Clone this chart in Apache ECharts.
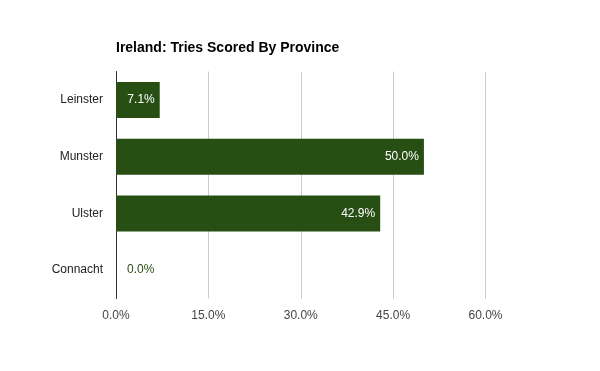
<!DOCTYPE html>
<html><head><meta charset="utf-8">
<script src="https://cdn.jsdelivr.net/npm/echarts@6/dist/echarts.min.js"></script>
<style>html,body{margin:0;padding:0;background:#fff}#c{width:600px;height:371px}</style>
</head><body><div id="c"></div>
<script>
const categories = ["Leinster", "Munster", "Ulster", "Connacht"];
const values = [7.1, 50.0, 42.9, 0.0];
const xTicks = [0, 15, 30, 45, 60];
const barColor = '#274e13';
const chart = echarts.init(document.getElementById('c'), null, {renderer: 'canvas'});
chart.setOption({
  animation: false,
  textStyle: {fontFamily: 'Liberation Sans, Arial, sans-serif'},
  title: {text: 'Ireland: Tries Scored By Province', left: 111, top: 36,
    textStyle: {fontSize: 14, fontWeight: 'bold', color: '#000', fontFamily: 'Liberation Sans, Arial, sans-serif'}},
  grid: {left: 116, right: 114.5, top: 71.5, bottom: 72.5, containLabel: false},
  xAxis: {type: 'value', min: xTicks[0], max: xTicks[xTicks.length - 1], interval: 15,
    axisLine: {show: false}, axisTick: {show: false},
    splitLine: {lineStyle: {color: '#cccccc', width: 1}},
    axisLabel: {formatter: v => v.toFixed(1) + '%', color: '#444', fontSize: 12, margin: 11}},
  yAxis: {type: 'category', data: categories, inverse: true,
    axisLine: {show: true, lineStyle: {color: '#333', width: 1}}, axisTick: {show: false},
    axisLabel: {color: '#222', fontSize: 12, margin: 13}},
  series: [{type: 'bar', barWidth: 36,
    data: values.map(v => v === 0 ? {value: v, label: {position: 'right', distance: 11, color: barColor}} : v),
    itemStyle: {color: barColor},
    label: {show: true, position: 'insideRight', distance: 5, color: '#fff', fontSize: 12,
      formatter: p => p.value.toFixed(1) + '%'}}]
});
</script></body></html>
